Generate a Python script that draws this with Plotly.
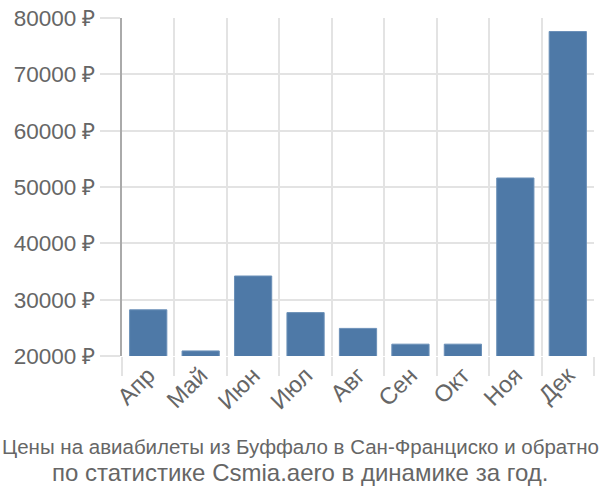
import plotly.graph_objects as go

months = ["Апр", "Май", "Июн", "Июл", "Авг", "Сен", "Окт", "Ноя", "Дек"]
prices = [28200, 20900, 34200, 27700, 24900, 22100, 22100, 51600, 77600]
y_ticks = [20000, 30000, 40000, 50000, 60000, 70000, 80000]
y_tick_labels = [f"{v} ₽" for v in y_ticks]
title_line1 = "Цены на авиабилеты из Буффало в Сан-Франциско и обратно"
title_line2 = "по статистике Csmia.aero в динамике за год."

FONT = "Liberation Sans, Arial, sans-serif"

# page centre expressed in plot-area paper coordinates
PLOT_L, PLOT_R = 122, 594
cx = (300 - PLOT_L) / (PLOT_R - PLOT_L)

fig = go.Figure()
fig.add_trace(go.Bar(
    x=months, y=prices,
    marker=dict(color="#4E79A7", line=dict(color="#6B90B8", width=1)),
    width=0.71,
))

fig.update_layout(
    width=600, height=500,
    margin=dict(l=PLOT_L, r=600 - PLOT_R, t=15, b=144),
    paper_bgcolor="white", plot_bgcolor="white",
    showlegend=False,
    font=dict(family=FONT, color="#666666", size=22),
    xaxis=dict(
        type="category",
        tickson="boundaries",
        showgrid=True, gridcolor="#e3e3e3", gridwidth=2,
        ticks="outside", ticklen=19, tickcolor="#e3e3e3", tickwidth=2,
        tickangle=-45,
        tickfont=dict(size=23.5, color="#666666"),
        showline=False,
        range=[-0.5, 8.5],
        zeroline=False,
    ),
    yaxis=dict(
        range=[20000, 80000],
        tickvals=y_ticks, ticktext=y_tick_labels,
        showgrid=True, gridcolor="#e3e3e3", gridwidth=2,
        ticks="outside", ticklen=20, tickcolor="#e3e3e3", tickwidth=2,
        tickfont=dict(size=22.5, color="#666666"),
        showline=True, linecolor="#aaaaaa", linewidth=2,
        zeroline=False,
    ),
    annotations=[
        dict(text=title_line1, xref="paper", yref="paper", x=cx, y=-0.267,
             xanchor="center", yanchor="middle", showarrow=False,
             font=dict(family=FONT, size=20.5, color="#666666")),
        dict(text=title_line2, xref="paper", yref="paper", x=cx, y=-0.346,
             xanchor="center", yanchor="middle", showarrow=False,
             font=dict(family=FONT, size=24, color="#666666")),
    ],
)

fig.write_html("out.html")
